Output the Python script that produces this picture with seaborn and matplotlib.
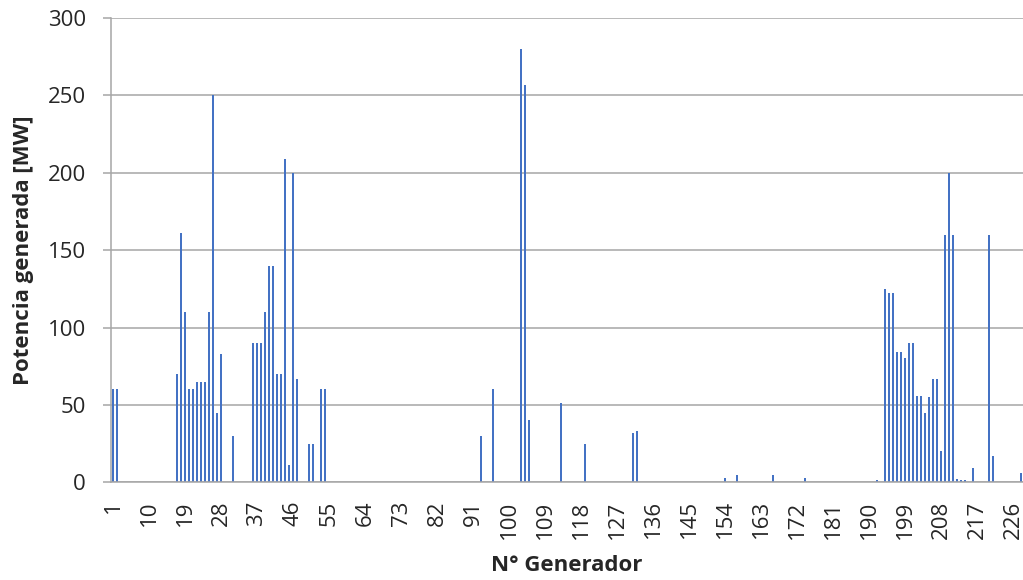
import matplotlib
matplotlib.use("Agg")
import matplotlib.pyplot as plt
import seaborn as sns
import pandas as pd

# Generated power per generator [MW], generators 1..228
power_mw = [
    60, 60, 0, 0, 0, 0, 0, 0, 0, 0,            # 1-10
    0, 0, 0, 0, 0, 0, 70, 161, 110, 60,        # 11-20
    60, 65, 65, 65, 110, 250, 45, 83, 0, 0,    # 21-30
    30, 0, 0, 0, 0, 90, 90, 90, 110, 140,      # 31-40
    140, 70, 70, 209, 11, 200, 67, 0, 0, 25,   # 41-50
    25, 0, 60, 60, 0, 0, 0, 0, 0, 0,           # 51-60
    0, 0, 0, 0, 0, 0, 0, 0, 0, 0,              # 61-70
    0, 0, 0, 0, 0, 0, 0, 0, 0, 0,              # 71-80
    0, 0, 0, 0, 0, 0, 0, 0, 0, 0,              # 81-90
    0, 0, 30, 0, 0, 60, 0, 0, 0, 0,            # 91-100
    0, 0, 280, 257, 40, 0, 0, 0, 0, 0,         # 101-110
    0, 0, 51, 0, 0, 0, 0, 0, 25, 0,            # 111-120
    0, 0, 0, 0, 0, 0, 0, 0, 0, 0,              # 121-130
    32, 33, 0, 0, 0, 0, 0, 0, 0, 0,            # 131-140
    0, 0, 0, 0, 0, 0, 0, 0, 0, 0,              # 141-150
    0, 0, 0, 2.5, 0, 0, 5, 0, 0, 0,            # 151-160
    0, 0, 0, 0, 0, 5, 0, 0, 0, 0,              # 161-170
    0, 0, 0, 2.5, 0, 0, 0, 0, 0, 0,            # 171-180
    0, 0, 0, 0, 0, 0, 0, 0, 0, 0,              # 181-190
    0, 1.5, 0, 125, 122, 122, 84, 84, 80, 90,  # 191-200
    90, 56, 56, 45, 55, 67, 67, 20, 160, 200,  # 201-210
    160, 2, 1.3, 1.3, 0, 9, 0, 0, 0, 160,      # 211-220
    17, 0, 0, 0, 0, 0, 0.5, 6,                 # 221-228
]
generators = [str(i) for i in range(1, len(power_mw) + 1)]
x_tick_labels = ["1", "10", "19", "28", "37", "46", "55", "64", "73", "82",
                 "91", "100", "109", "118", "127", "136", "145", "154", "163",
                 "172", "181", "190", "199", "208", "217", "226"]
y_ticks = [0, 50, 100, 150, 200, 250, 300]

sns.set_theme(style="white")
plt.rcParams["font.family"] = ["Open Sans", "DejaVu Sans"]

df = pd.DataFrame({"gen": generators, "mw": power_mw})

fig = plt.figure(figsize=(10.23, 5.80), dpi=100)
ax = fig.add_axes([111 / 1023, 1 - 482.3 / 580, (1023 - 111) / 1023, (482.3 - 18) / 580])

sns.barplot(data=df, x="gen", y="mw", order=generators, color="#4472C4",
            saturation=1, width=0.4, linewidth=0, ax=ax)

grid_c = "#A6A6A6"
ax.set_axisbelow(True)
ax.yaxis.grid(True, color=grid_c, linewidth=1.1)
ax.xaxis.grid(False)
ax.set_ylim(0, 300)
ax.set_yticks(y_ticks)
ax.set_xlim(-0.5, len(generators) - 0.5)
pos = [generators.index(t) for t in x_tick_labels]
ax.set_xticks(pos)
ax.set_xticklabels(x_tick_labels, rotation=90)

for s in ["top", "right"]:
    ax.spines[s].set_visible(False)
for s in ["left", "bottom"]:
    ax.spines[s].set_color(grid_c)
    ax.spines[s].set_linewidth(1.1)

ax.tick_params(axis="y", which="major", length=6, width=1.1, color=grid_c,
               labelsize=16, pad=12, left=True)
ax.tick_params(axis="x", which="major", length=0, labelsize=16, pad=13)

ax.set_xlabel("N° Generador", fontsize=16, fontweight="bold", labelpad=12)
ax.set_ylabel("Potencia generada [MW]", fontsize=16, fontweight="bold", labelpad=10)

fig.savefig("out.png", dpi=100)
